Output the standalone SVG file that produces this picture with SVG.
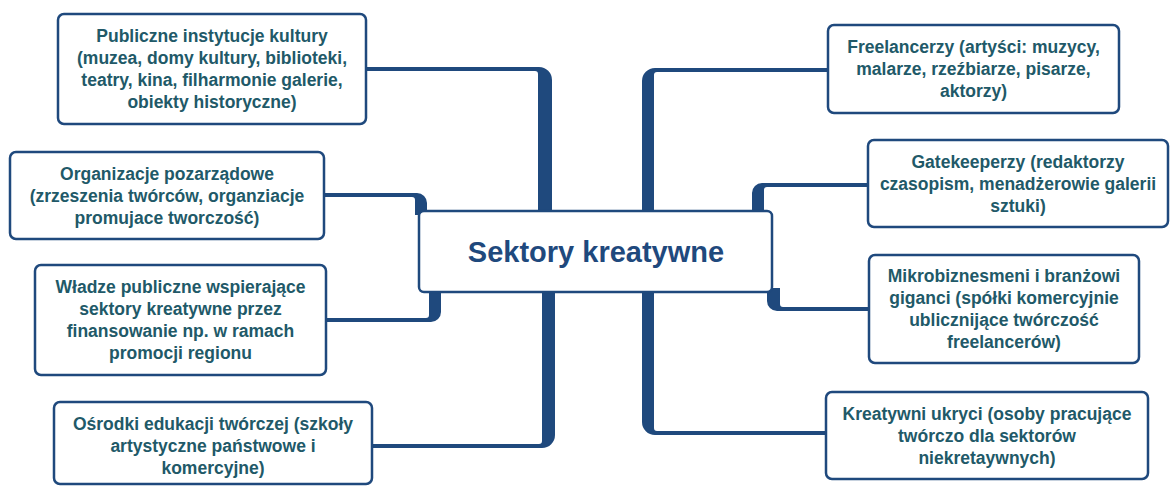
<svg xmlns="http://www.w3.org/2000/svg" width="1171" height="486" viewBox="0 0 1171 486">
  <style>
    .box { fill: #ffffff; stroke: #1F497D; stroke-width: 2.5; }
    .leaf { font-family: "Liberation Sans", Arial, sans-serif; font-weight: bold; font-size: 17.5px; fill: #215968; text-anchor: middle; }
    .hub { font-family: "Liberation Sans", Arial, sans-serif; font-weight: bold; font-size: 29px; fill: #1F497D; text-anchor: middle; }
    .link { fill: #1F497D; stroke: none; }
  </style>

  <!-- branch connectors: thin run to each leaf, thick stem into the hub -->
  <g id="connectors">
    <path class="link" d="M366,67 H539 A13,13 0 0 1 552,80 V215 H538 V74 A3,3 0 0 0 535,71 H366 Z"/>
    <path class="link" d="M324,193 H417 A10,10 0 0 1 427,203 V215 H415 V200 A3,3 0 0 0 412,197 H324 Z"/>
    <path class="link" d="M326,322 H431 A10,10 0 0 0 441,312 V288 H429 V315 A3,3 0 0 1 426,318 H326 Z"/>
    <path class="link" d="M372,448 H542 A13,13 0 0 0 555,435 V288 H542 V441 A3,3 0 0 1 539,444 H372 Z"/>
    <path class="link" d="M828,68 H655 A13,13 0 0 0 642,81 V215 H654 V75 A3,3 0 0 1 657,72 H828 Z"/>
    <path class="link" d="M868,183 H762 A10,10 0 0 0 752,193 V215 H764 V190 A3,3 0 0 1 767,187 H868 Z"/>
    <path class="link" d="M869,311 H777 A10,10 0 0 1 767,301 V288 H780 V304 A3,3 0 0 0 783,307 H869 Z"/>
    <path class="link" d="M826,435 H655 A13,13 0 0 1 642,422 V288 H654 V428 A3,3 0 0 0 657,431 H826 Z"/>
  </g>

  <g id="hub">
    <rect class="box" x="419" y="211" width="353" height="81" rx="5"/>
    <text class="hub" x="596" y="262">Sektory kreatywne</text>
  </g>

  <g id="publiczne">
    <rect class="box" x="58" y="14" width="308" height="110" rx="6"/>
    <text class="leaf" x="212" y="42">Publiczne instytucje kultury</text>
    <text class="leaf" x="212" y="64">(muzea, domy kultury, biblioteki,</text>
    <text class="leaf" x="212" y="86">teatry, kina, filharmonie galerie,</text>
    <text class="leaf" x="212" y="108">obiekty historyczne)</text>
  </g>

  <g id="organizacje">
    <rect class="box" x="10" y="152" width="314" height="87" rx="6"/>
    <text class="leaf" x="167" y="179.5">Organizacje pozarządowe</text>
    <text class="leaf" x="167" y="201.5">(zrzeszenia twórców, organziacje</text>
    <text class="leaf" x="167" y="223.5">promujace tworczość)</text>
  </g>

  <g id="wladze">
    <rect class="box" x="35" y="265" width="291" height="110" rx="6"/>
    <text class="leaf" x="180.5" y="293">Władze publiczne wspierające</text>
    <text class="leaf" x="180.5" y="315">sektory kreatywne przez</text>
    <text class="leaf" x="180.5" y="337">finansowanie np. w ramach</text>
    <text class="leaf" x="180.5" y="359">promocji regionu</text>
  </g>

  <g id="osrodki">
    <rect class="box" x="54" y="402" width="318" height="82" rx="6"/>
    <text class="leaf" x="213" y="430">Ośrodki edukacji twórczej (szkoły</text>
    <text class="leaf" x="213" y="452">artystyczne państwowe i</text>
    <text class="leaf" x="213" y="474">komercyjne)</text>
  </g>

  <g id="freelancerzy">
    <rect class="box" x="828" y="25" width="291" height="88" rx="6"/>
    <text class="leaf" x="973.5" y="53">Freelancerzy (artyści: muzycy,</text>
    <text class="leaf" x="973.5" y="75">malarze, rzeźbiarze, pisarze,</text>
    <text class="leaf" x="973.5" y="97">aktorzy)</text>
  </g>

  <g id="gatekeeperzy">
    <rect class="box" x="868" y="140" width="300" height="87" rx="6"/>
    <text class="leaf" x="1018" y="167.5">Gatekeeperzy (redaktorzy</text>
    <text class="leaf" x="1018" y="189.5">czasopism, menadżerowie galerii</text>
    <text class="leaf" x="1018" y="211.5">sztuki)</text>
  </g>

  <g id="mikrobiznesmeni">
    <rect class="box" x="869" y="255" width="270" height="108" rx="6"/>
    <text class="leaf" x="1004" y="282">Mikrobiznesmeni i branżowi</text>
    <text class="leaf" x="1004" y="304">giganci (spółki komercyjnie</text>
    <text class="leaf" x="1004" y="326">ublicznijące twórczość</text>
    <text class="leaf" x="1004" y="348">freelancerów)</text>
  </g>

  <g id="kreatywni-ukryci">
    <rect class="box" x="826" y="392" width="322" height="87" rx="6"/>
    <text class="leaf" x="987" y="419.5">Kreatywni ukryci (osoby pracujące</text>
    <text class="leaf" x="987" y="441.5">twórczo dla sektorów</text>
    <text class="leaf" x="987" y="463.5">niekretaywnych)</text>
  </g>
</svg>
